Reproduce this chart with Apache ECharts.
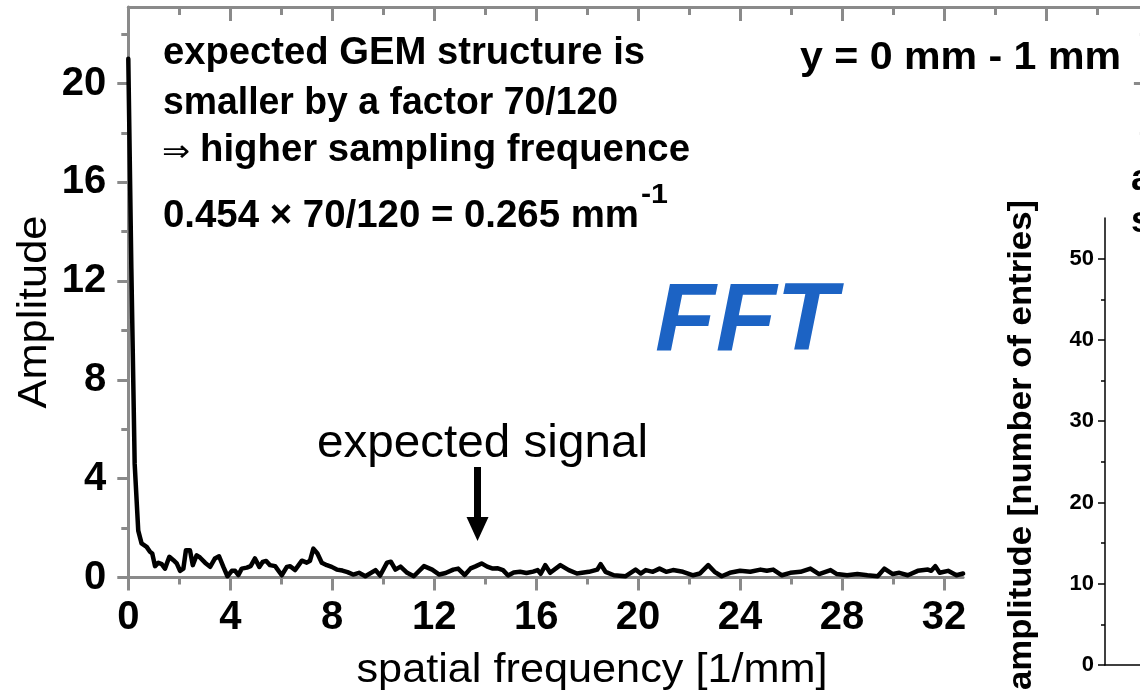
<!DOCTYPE html>
<html><head><meta charset="utf-8">
<script src="https://cdn.jsdelivr.net/npm/echarts@6/dist/echarts.min.js"></script>
<style>html,body{margin:0;padding:0;background:#fff}#c{width:1140px;height:698px}</style>
</head><body><div id="c"></div>
<script>
// spatial frequency [1/mm]
const freq = [0,0.12,0.25,0.39,0.52,0.72,0.85,0.94,1.05,1.18,1.31,1.44,1.61,1.77,1.9,2.03,2.16,2.26,2.42,2.53,2.68,2.81,3.01,3.21,3.4,3.56,3.73,3.89,4.06,4.19,4.32,4.45,4.65,4.8,4.97,5.14,5.27,5.41,5.56,5.76,6.02,6.22,6.35,6.54,6.81,7.0,7.13,7.26,7.42,7.59,7.79,7.98,8.18,8.4,8.6,8.82,9.05,9.3,9.7,9.88,10.15,10.3,10.48,10.68,10.94,11.2,11.6,11.92,12.2,12.45,12.75,12.94,13.2,13.43,13.62,13.86,14.08,14.3,14.5,14.7,14.9,15.12,15.37,15.62,15.88,16.06,16.18,16.36,16.55,16.95,17.28,17.6,18.07,18.4,18.53,18.72,19.05,19.5,19.9,20.1,20.3,20.58,20.84,21.1,21.37,21.76,22.16,22.42,22.75,23.0,23.28,23.6,24.0,24.4,24.8,25.05,25.3,25.64,25.97,26.37,26.76,27.1,27.55,27.8,28.2,28.6,29.0,29.4,29.66,29.99,30.25,30.58,30.97,31.37,31.5,31.66,31.83,32.16,32.49,32.75];
// Amplitude
const amp = [21.0,12.5,4.6,1.9,1.38,1.24,1.04,0.97,0.46,0.6,0.54,0.36,0.84,0.7,0.57,0.27,0.36,1.1,1.1,0.5,0.9,0.81,0.6,0.43,0.77,0.86,0.43,0.05,0.27,0.27,0.1,0.36,0.4,0.46,0.77,0.43,0.63,0.67,0.5,0.46,0.09,0.43,0.46,0.3,0.68,0.6,0.68,1.17,0.97,0.6,0.5,0.43,0.32,0.28,0.22,0.12,0.19,0.05,0.3,0.08,0.6,0.64,0.32,0.44,0.19,0.05,0.46,0.32,0.12,0.18,0.32,0.36,0.1,0.37,0.45,0.57,0.44,0.36,0.37,0.3,0.08,0.2,0.23,0.18,0.24,0.3,0.15,0.5,0.19,0.5,0.3,0.16,0.23,0.32,0.54,0.23,0.09,0.05,0.32,0.16,0.3,0.23,0.36,0.23,0.3,0.23,0.09,0.16,0.5,0.23,0.05,0.19,0.27,0.23,0.32,0.27,0.32,0.09,0.19,0.23,0.36,0.14,0.3,0.14,0.09,0.14,0.09,0.05,0.36,0.14,0.19,0.09,0.27,0.32,0.27,0.46,0.19,0.27,0.09,0.16];

const xMajor = [0,4,8,12,16,20,24,28,32];
const xMinor = [2,6,10,14,18,22,26,30];
const yMajor = [0,4,8,12,16,20];
const yMinor = [2,6,10,14,18,22];
const topMajor = [0,4,8,12,16,20,24,28,32,36,40];
const topMinor = [2,6,10,14,18,22,26,30,34,38];
const insetMajor = [0,10,20,30,40,50];
const insetMinor = [5,15,25,35,45];
const signalFreq = 13.7;

const GRAY = '#8a8a8a';
const FONT = "'Liberation Sans', Arial, sans-serif";

function axis(o) {
  return {
    type: 'value', gridIndex: o.grid, position: o.pos, min: o.min, max: o.max, offset: 0,
    z: o.z || 0,
    axisLine: { show: !!o.line, onZero: false, lineStyle: { color: o.color || GRAY, width: o.lw || 3 } },
    axisTick: { show: true, inside: !!o.inside, length: o.len, customValues: o.ticks,
      lineStyle: { color: o.color || GRAY, width: o.lw || 3 } },
    axisLabel: o.labels ? { show: true, customValues: o.ticks, margin: o.margin,
      fontSize: o.fs, fontWeight: 'bold', fontFamily: FONT, color: '#000' } : { show: false },
    splitLine: { show: false }, minorTick: { show: false }
  };
}

const chart = echarts.init(document.getElementById('c'), null, { renderer: 'canvas' });
const xPer = 25.49, yPer = 24.7;
chart.setOption({
  animation: false,
  backgroundColor: '#fff',
  grid: [
    { left: 128.3, top: 7, width: 32.75 * xPer, height: 570.5, outerBoundsMode: 'none', containLabel: false },
    { left: 128.3, top: 7, width: 40 * xPer, height: 570.5, outerBoundsMode: 'none', containLabel: false },
    { left: 1105, top: 218, width: 200, height: 447, outerBoundsMode: 'none', containLabel: false }
  ],
  xAxis: [
    axis({ grid: 0, pos: 'bottom', min: 0, max: 32.75, ticks: xMajor, len: 13, line: true, labels: true, fs: 40, margin: 20 }),
    axis({ grid: 0, pos: 'bottom', min: 0, max: 32.75, ticks: xMinor, len: 7 }),
    axis({ grid: 1, pos: 'top', min: 0, max: 40, ticks: topMajor, len: 14, inside: true, line: true }),
    axis({ grid: 1, pos: 'top', min: 0, max: 40, ticks: topMinor, len: 8, inside: true }),
    axis({ grid: 2, pos: 'bottom', min: 0, max: 1, ticks: [], len: 0, line: true, color: '#000', lw: 1.5, z: 10 })
  ],
  yAxis: [
    axis({ grid: 0, pos: 'left', min: 0, max: 570.5 / yPer, ticks: yMajor, len: 11, line: true, labels: true, fs: 40, margin: 22 }),
    axis({ grid: 0, pos: 'left', min: 0, max: 570.5 / yPer, ticks: yMinor, len: 7 }),
    axis({ grid: 1, pos: 'right', min: 0, max: 570.5 / yPer, ticks: yMajor, len: 14, inside: true, line: true }),
    axis({ grid: 1, pos: 'right', min: 0, max: 570.5 / yPer, ticks: yMinor, len: 8, inside: true }),
    axis({ grid: 2, pos: 'left', min: 0, max: 55, ticks: insetMajor, len: 7, line: true, labels: true, fs: 22, margin: 11, color: '#000', lw: 1.5, z: 10 }),
    axis({ grid: 2, pos: 'left', min: 0, max: 55, ticks: insetMinor, len: 4, color: '#000', lw: 1.5, z: 10 })
  ],
  series: [{
    type: 'line', xAxisIndex: 0, yAxisIndex: 0, showSymbol: false, symbol: 'none',
    lineStyle: { color: '#000', width: 4.5, join: 'round', cap: 'round' },
    data: freq.map((f, i) => [f, amp[i]]), z: 2
  }]
});

// text helper: fit width by horizontal scaling
const mctx = document.createElement('canvas').getContext('2d');
function txt(str, o) {
  const weight = o.weight || 'bold', style = o.style || 'normal';
  mctx.font = `${style} ${weight} ${o.size}px ${FONT}`;
  const w = mctx.measureText(str).width;
  const s = o.width ? o.width / w : 1;
  return {
    type: 'text', x: o.x, y: o.y, rotation: o.rot || 0, scaleX: s, z: o.z || 20,
    style: { text: str, fontSize: o.size, fontWeight: weight, fontStyle: style, fontFamily: FONT,
      fill: o.color || '#000', align: o.align || 'left', verticalAlign: 'middle' }
  };
}

const p = chart.convertToPixel({ xAxisIndex: 0, yAxisIndex: 0 }, [signalFreq, 0]);
const ax = p[0];

chart.setOption({
  graphic: [
    { type: 'rect', shape: { x: 975, y: 150, width: 170, height: 550 }, style: { fill: '#fff' }, z: 5 },
    txt('expected GEM structure is', { x: 163, y: 54, size: 38, width: 482 }),
    txt('smaller by a factor 70/120', { x: 163, y: 104, size: 38, width: 455 }),
    txt('\u21D2', { x: 162, y: 153, size: 30, weight: 'normal', width: 28 }),
    txt('higher sampling frequence', { x: 200, y: 151, size: 38, width: 490 }),
    txt('0.454 \u00D7 70/120 = 0.265 mm', { x: 163, y: 217, size: 38, width: 476 }),
    txt('-1', { x: 641, y: 196, size: 27, width: 27 }),
    txt('y = 0 mm - 1 mm', { x: 800, y: 59, size: 38, width: 321 }),
    txt('FFT', { x: 655, y: 324, size: 96, style: 'italic', width: 182, color: '#1c63c4' }),
    txt('expected signal', { x: 317, y: 444, size: 46, weight: 'normal', width: 331 }),
    txt('Amplitude', { x: 35, y: 312, size: 40, weight: 'normal', width: 193, rot: Math.PI / 2, align: 'center' }),
    txt('spatial frequency [1/mm]', { x: 592, y: 671, size: 40, weight: 'normal', width: 471, align: 'center' }),
    txt('amplitude [number of entries]', { x: 1022, y: 445, size: 34, width: 490, rot: Math.PI / 2, align: 'center', z: 30 }),
    txt('a', { x: 1131, y: 180, size: 36, z: 30 }),
    txt('s', { x: 1131, y: 222, size: 36, z: 30 }),
    { type: 'rect', shape: { x: ax - 3.5, y: 467, width: 7, height: 52 }, style: { fill: '#000' }, z: 20 },
    { type: 'polygon', shape: { points: [[ax - 11, 517], [ax + 11, 517], [ax, 541]] }, style: { fill: '#000' }, z: 20 }
  ]
});
</script></body></html>
